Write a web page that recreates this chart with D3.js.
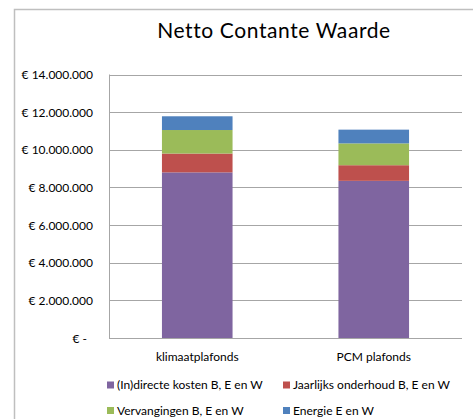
<!DOCTYPE html>
<html lang="nl">
<head>
<meta charset="UTF-8" />
<title>Netto Contante Waarde</title>
<style>
  body { margin: 0; background: #fff; }
  text { font-family: Lato, "Open Sans", sans-serif; fill: #000; }
</style>
</head>
<body>
<div id="chart"></div>
<script src="https://d3js.org/d3.v7.min.js"></script>
<script>
var w = 473;
var h = 419;

// data
var categories = ["klimaatplafonds", "PCM plafonds"];
var seriesNames = ["(In)directe kosten B, E en W", "Jaarlijks onderhoud B, E en W", "Vervangingen B, E en W", "Energie E en W"];
var directe = [8800000, 8350000];
var onderhoud = [1000000, 830000];
var vervangingen = [1250000, 1160000];
var energie = [730000, 730000];
var yTicks = [0, 2000000, 4000000, 6000000, 8000000, 10000000, 12000000, 14000000];
var colors = ["#7f65a0", "#be504d", "#9bbb59", "#4f81bd"];

var rows = categories.map(function(c, i) {
  return { cat: c, s0: directe[i], s1: onderhoud[i], s2: vervangingen[i], s3: energie[i] };
});
var stack = d3.stack().keys(["s0", "s1", "s2", "s3"])(rows);

var svg = d3.select("#chart").append("svg")
  .attr("width", w)
  .attr("height", h);

// outer chart border
svg.append("rect")
  .attr("x", 14.5).attr("y", 9.5)
  .attr("width", 480).attr("height", 440)
  .attr("fill", "none")
  .attr("stroke", "#bfbfbf")
  .attr("stroke-width", 1.5);

svg.append("text")
  .attr("x", 274).attr("y", 38)
  .attr("text-anchor", "middle")
  .style("font-size", "21px")
  .style("letter-spacing", "0.6px")
  .text("Netto Contante Waarde");

var plotLeft = 109, plotRight = 462, plotTop = 74.5, plotBottom = 338;

var x = d3.scaleBand().domain(categories).range([plotLeft, plotRight]).paddingInner(0.6).paddingOuter(0.3);
var y = d3.scaleLinear().domain([0, 14000000]).range([plotBottom, plotTop]);

var fmt = function(d) {
  if (d === 0) return "€ -";
  return "€ " + d3.format(",")(d).replace(/,/g, ".");
};

// gridlines
svg.append("g").selectAll("line")
  .data(yTicks)
  .enter().append("line")
  .attr("x1", plotLeft).attr("x2", plotRight)
  .attr("y1", function(d) { return Math.round(y(d)) + 0.5; })
  .attr("y2", function(d) { return Math.round(y(d)) + 0.5; })
  .attr("stroke", "#a6a6a6")
  .attr("stroke-width", 1);

svg.append("line")
  .attr("x1", plotLeft + 0.5).attr("x2", plotLeft + 0.5)
  .attr("y1", plotTop).attr("y2", plotBottom)
  .attr("stroke", "#a6a6a6");

// y axis labels
var yAxis = svg.append("g")
  .attr("transform", "translate(" + (plotLeft - 16) + ",0)")
  .call(d3.axisLeft(y).tickValues(yTicks).tickFormat(fmt).tickSize(0).tickPadding(0));
yAxis.select(".domain").remove();
yAxis.selectAll("text")
  .style("font-size", "12px")
  .style("font-family", "Lato, 'Open Sans', sans-serif")
  .attr("dy", "0.35em")
  .attr("dx", function(d) { return d === 0 ? -6 : 0; });

// bars
svg.append("g").selectAll("g")
  .data(stack)
  .enter().append("g")
  .attr("fill", function(d, i) { return colors[i]; })
  .selectAll("rect")
  .data(function(d) { return d; })
  .enter().append("rect")
  .attr("x", function(d) { return x(d.data.cat); })
  .attr("width", x.bandwidth())
  .attr("y", function(d) { return y(d[1]); })
  .attr("height", function(d) { return y(d[0]) - y(d[1]); });

// x axis labels
var xAxis = svg.append("g")
  .attr("transform", "translate(0," + plotBottom + ")")
  .call(d3.axisBottom(x).tickSize(0).tickPadding(14));
xAxis.select(".domain").remove();
xAxis.selectAll("text")
  .style("font-size", "12px")
  .style("font-family", "Lato, 'Open Sans', sans-serif");

// legend
var legendPos = [[107, 385], [283, 385], [107, 410.5], [283, 410.5]];
var legend = svg.append("g").selectAll("g")
  .data(seriesNames)
  .enter().append("g")
  .attr("transform", function(d, i) { return "translate(" + legendPos[i][0] + "," + legendPos[i][1] + ")"; });
legend.append("rect")
  .attr("x", 0).attr("y", -3.5)
  .attr("width", 7).attr("height", 7)
  .attr("fill", function(d, i) { return colors[i]; });
legend.append("text")
  .attr("x", 10).attr("y", 0)
  .attr("dy", "0.35em")
  .style("font-size", "12px")
  .text(function(d) { return d; });
</script>
</body>
</html>
